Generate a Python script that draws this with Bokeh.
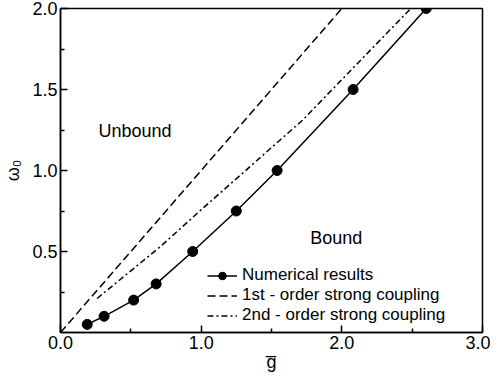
from bokeh.plotting import figure
from bokeh.models import Range1d, FixedTicker, PrintfTickFormatter, Legend, LegendItem, Label
from bokeh.embed import file_html
from bokeh.resources import INLINE

# numerical results
num_g = [0.19, 0.31, 0.52, 0.68, 0.94, 1.25, 1.54, 2.08, 2.60]
num_w = [0.05, 0.10, 0.20, 0.30, 0.50, 0.75, 1.00, 1.50, 2.00]
# 1st-order strong coupling
first_g = [0.0, 2.0]
first_w = [0.0, 2.0]
# 2nd-order strong coupling
second_g = [0.26, 0.71, 0.99, 1.72, 2.49]
second_w = [0.21, 0.53, 0.75, 1.31, 2.00]

x_ticks = [0, 1, 2, 3]
x_minor = [0.5, 1.5, 2.5]
y_ticks = [0.5, 1.0, 1.5, 2.0]
y_minor = [0.25, 0.75, 1.25, 1.75]

FONT = "Liberation Sans"

p = figure(width=490, height=374, output_backend="svg", toolbar_location=None,
           x_range=Range1d(0, 3), y_range=Range1d(0, 2),
           min_border_left=56, min_border_right=8, min_border_top=8, min_border_bottom=36)
p.grid.visible = False
p.outline_line_color = "black"
p.outline_line_width = 1.5
p.background_fill_color = "white"
p.border_fill_color = "white"

p.xaxis.ticker = FixedTicker(ticks=x_ticks, minor_ticks=x_minor)
p.yaxis.ticker = FixedTicker(ticks=y_ticks, minor_ticks=y_minor)
p.xaxis.formatter = PrintfTickFormatter(format="%.1f")
p.yaxis.formatter = PrintfTickFormatter(format="%.1f")
for ax in (p.xaxis[0], p.yaxis[0]):
    ax.axis_line_color = "black"
    ax.axis_line_width = 1.5
    ax.major_tick_in = 7
    ax.major_tick_out = 0
    ax.minor_tick_in = 4
    ax.minor_tick_out = 0
    ax.major_tick_line_width = 1.5
    ax.minor_tick_line_width = 1.5
    ax.major_label_text_font = FONT
    ax.major_label_text_font_size = "18px"
    ax.major_label_text_color = "black"
    ax.major_label_standoff = 3
    ax.axis_label_text_font = FONT
    ax.axis_label_text_font_size = "18px"
    ax.axis_label_text_font_style = "normal"
    ax.axis_label_text_color = "black"
    ax.axis_label_standoff = 0
p.xaxis.axis_label = "g\u0305"
p.yaxis.axis_label = "\u03c9\u2080"
p.yaxis.axis_label_standoff = 6

r_first = p.line(first_g, first_w, line_color="black", line_width=1.5, line_dash="8 4")
r_second = p.line(second_g, second_w, line_color="black", line_width=1.5, line_dash="6 3 2 3")
r_num_line = p.line(num_g, num_w, line_color="black", line_width=1.5)
r_num_pts = p.scatter(num_g, num_w, size=10, fill_color="black", line_color="black")

p.add_layout(Label(x=0.53, y=1.245, text="Unbound", text_align="center", text_baseline="middle",
                   text_font=FONT, text_font_size="18px", text_color="black"))
p.add_layout(Label(x=1.96, y=0.585, text="Bound", text_align="center", text_baseline="middle",
                   text_font=FONT, text_font_size="18px", text_color="black"))

legend = Legend(items=[
    LegendItem(label="Numerical results", renderers=[r_num_line, r_num_pts]),
    LegendItem(label="1st - order strong coupling", renderers=[r_first]),
    LegendItem(label="2nd - order strong coupling", renderers=[r_second]),
], location=(147, 7), padding=0, margin=0, spacing=0,
    label_height=19, glyph_height=19, glyph_width=30, label_standoff=5,
    label_text_font=FONT, label_text_font_size="17px", label_text_color="black",
    border_line_color=None, background_fill_alpha=0)
p.add_layout(legend, "center")

open("out.html", "w").write(file_html(p, INLINE))
